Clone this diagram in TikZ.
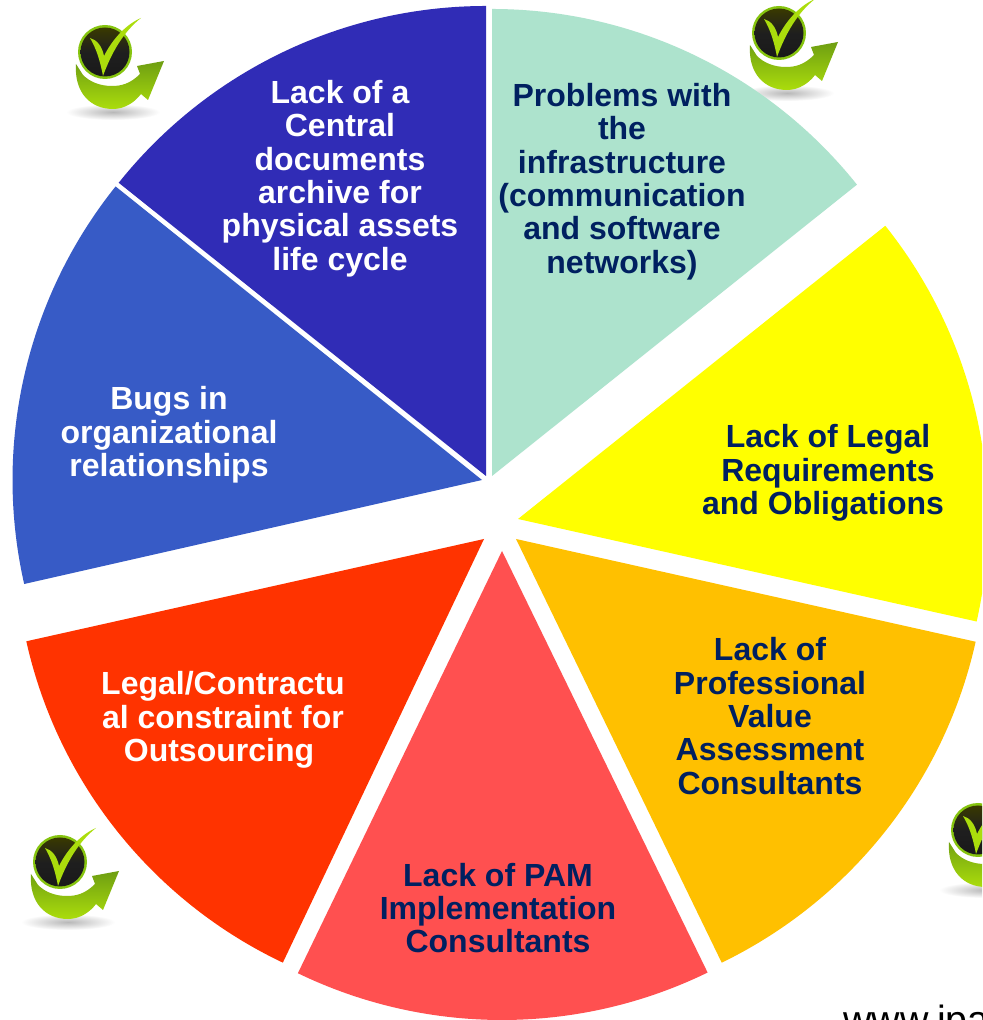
\documentclass[tikz,border=0pt]{standalone}
\usepackage{fontspec}
\setmainfont{Liberation Sans}
\definecolor{tealpie}{HTML}{ADE3CD}
\definecolor{yellowpie}{RGB}{255,255,0}
\definecolor{orangepie}{HTML}{FFC000}
\definecolor{pinkpie}{HTML}{FF5050}
\definecolor{redpie}{HTML}{FF3300}
\definecolor{bluepie}{HTML}{375BC6}
\definecolor{indigopie}{HTML}{302CB6}
\definecolor{navytext}{HTML}{002060}
\definecolor{iconlime}{HTML}{ABDD0C}
\definecolor{icondeep}{HTML}{6E9E12}
\definecolor{iconring}{HTML}{86C40F}
\tikzset{
  piedark/.style={font=\fontsize{24}{25}\selectfont\bfseries,align=center,text=navytext,inner sep=0pt},
  pielight/.style={piedark,text=white},
  checkicon/.pic={
    \shade[inner color=black!28,outer color=white] (8,-60) ellipse (47 and 8);
    \shade[top color=icondeep,bottom color=iconlime]
      (-29,-12) .. controls (-31,-40) and (-15,-57) .. (8,-57)
      .. controls (20,-57) and (30,-50) .. (36,-42) -- (43,-48) -- (59,-9) -- (32,-14) -- (35,-22)
      .. controls (25,-32) and (16,-34) .. (7,-34) .. controls (-5,-34) and (-15,-30) .. (-22,-23) -- cycle;
    \fill[iconring] (0,0) circle (27);
    \shade[top color=black!55!olive,bottom color=black!90,middle color=black!88] (0,0) circle (24.5);
    \fill[iconlime] (-15,14) .. controls (-8,12) and (-3,6) .. (-1,-4)
      .. controls (8,14) and (22,28) .. (36,34) .. controls (18,20) and (6,-2) .. (-2,-24)
      .. controls (-5,-8) and (-9,4) .. (-15,14) -- cycle;
  }
}
\begin{document}
\begin{tikzpicture}[x=0.75pt,y=0.75pt]
  \useasboundingbox (0,0) rectangle (982,1020);
  \clip (0,0) rectangle (982,1020);
  \fill[white] (0,0) rectangle (982,1020);

  \pic at (105,968) {checkicon};
  \pic at (779,987) {checkicon};
  \pic at (60,158) {checkicon};
  \pic at (978,190) {checkicon};

  % apex of every slice, y measured upward
  \coordinate (ApexTeal) at (492,544); \coordinate (ApexYellow) at (518,501);
  \coordinate (ApexOrange) at (516,481); \coordinate (ApexPink) at (502,469);
  \coordinate (ApexRed) at (484,481); \coordinate (ApexBlue) at (482,540);
  \coordinate (ApexIndigo) at (486,544);

  \fill[tealpie] (ApexTeal) -- ++(90:467) arc (90:38.6:467) -- cycle;
  \fill[yellowpie] (ApexYellow) -- ++(38.6:470) arc (38.6:-12.6:470) -- cycle;
  \fill[orangepie] (ApexOrange) -- ++(-12.6:471) arc (-12.6:-64.1:471) -- cycle;
  \fill[pinkpie] (ApexPink) -- ++(-64:469) arc (-64:-115.8:469) -- cycle;
  \fill[redpie] (ApexRed) -- ++(-115.4:469) arc (-115.4:-167.4:469) -- cycle;
  \fill[bluepie] (ApexBlue) -- ++(192.8:469.5) arc (192.8:141.3:469.5) -- cycle;
  \fill[indigopie] (ApexIndigo) -- ++(141.4:470) arc (141.4:90:470) -- cycle;

  \node[pielight] (indigotext) at (340,841.5) {Lack of a\\Central\\documents\\archive for\\physical assets\\life cycle};
  \node[piedark] (tealtext) at (622,838.5) {Problems with\\the\\infrastructure\\(communication\\and software\\networks)};
  \node[piedark] (yellowtext) at (823,547) {\hspace*{7.5pt}Lack of Legal\\\hspace*{7.5pt}Requirements\\and Obligations};
  \node[piedark] (orangetext) at (770,304) {Lack of\\Professional\\Value\\Assessment\\Consultants};
  \node[piedark] (pinktext) at (498,112) {Lack of PAM\\Implementation\\Consultants};
  \node[pielight] (redtext) at (223,300) {Legal/Contractu\\al constraint for\\Outsourcing\hspace*{6pt}};
  \node[pielight] (bluetext) at (169,585) {Bugs in\\organizational\\relationships};

  \node[anchor=base west,inner sep=0pt,font=\fontsize{29.5}{30}\selectfont] (website) at (843,-13) {www.ipa};
\end{tikzpicture}
\end{document}
